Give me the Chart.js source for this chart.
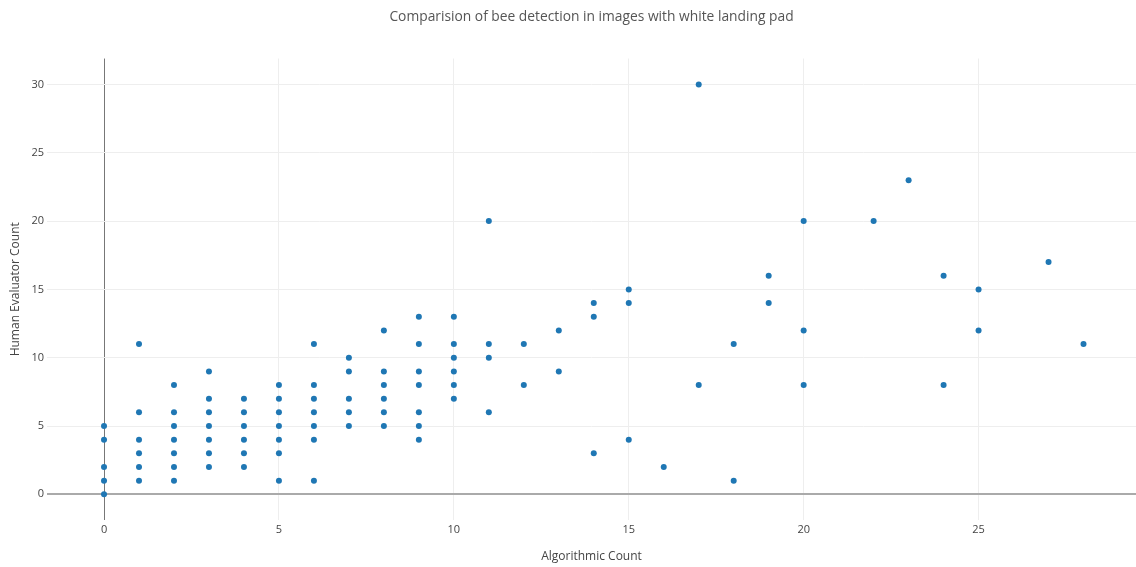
<!DOCTYPE html>
<html>
<head>
<meta charset="utf-8">
<script src="https://cdn.jsdelivr.net/npm/chart.js@4"></script>
<style>
  html, body { margin: 0; padding: 0; background: #fff; }
</style>
</head>
<body>
<canvas id="grafico" width="1136" height="567"></canvas>
<script>
// contagem do algoritmo (x) e do avaliador humano (y), ponto a ponto
const algoritmo = [
  0, 0, 0, 0, 0,
  1, 1, 1, 1, 1, 1,
  2, 2, 2, 2, 2, 2, 2,
  3, 3, 3, 3, 3, 3, 3,
  4, 4, 4, 4, 4, 4,
  5, 5, 5, 5, 5, 5, 5,
  6, 6, 6, 6, 6, 6, 6,
  7, 7, 7, 7, 7,
  8, 8, 8, 8, 8, 8,
  9, 9, 9, 9, 9, 9, 9,
  10, 10, 10, 10, 10, 10,
  11, 11, 11, 11,
  12, 12,
  13, 13,
  14, 14, 14,
  15, 15, 15,
  16,
  17, 17,
  18, 18,
  19, 19,
  20, 20, 20,
  22,
  23,
  24, 24,
  25, 25,
  27,
  28
];
const humano = [
  0, 1, 2, 4, 5,
  1, 2, 3, 4, 6, 11,
  1, 2, 3, 4, 5, 6, 8,
  2, 3, 4, 5, 6, 7, 9,
  2, 3, 4, 5, 6, 7,
  1, 3, 4, 5, 6, 7, 8,
  1, 4, 5, 6, 7, 8, 11,
  5, 6, 7, 9, 10,
  5, 6, 7, 8, 9, 12,
  4, 5, 6, 8, 9, 11, 13,
  7, 8, 9, 10, 11, 13,
  6, 10, 11, 20,
  8, 11,
  9, 12,
  3, 13, 14,
  4, 14, 15,
  2,
  8, 30,
  1, 11,
  14, 16,
  8, 12, 20,
  20,
  23,
  8, 16,
  12, 15,
  17,
  11
];
const ticksX = [0, 5, 10, 15, 20, 25];
const ticksY = [0, 5, 10, 15, 20, 25, 30];

const pontos = algoritmo.map((x, i) => ({ x, y: humano[i] }));
const fonte = 'Open Sans';

new Chart(document.getElementById('grafico'), {
  type: 'scatter',
  data: {
    datasets: [{
      label: 'Contagem',
      data: pontos,
      backgroundColor: '#1f77b4',
      borderWidth: 0,
      pointRadius: 3,
      pointHoverRadius: 3
    }]
  },
  options: {
    responsive: false,
    animation: false,
    layout: { padding: 0, autoPadding: false },
    plugins: {
      legend: { display: false },
      tooltip: { enabled: false },
      title: {
        display: true,
        fullSize: false,
        text: 'Comparision of bee detection in images with white landing pad',
        color: '#555',
        font: { family: fonte, size: 13.8, weight: 'normal' },
        padding: { top: 9, bottom: 33 }
      }
    },
    scales: {
      x: {
        type: 'linear',
        min: -1.63,
        max: 29.5,
        afterFit: s => { s.height = 47; },
        afterBuildTicks: s => { s.ticks = ticksX.map(v => ({ value: v })); },
        border: { display: false },
        grid: {
          drawTicks: false,
          color: c => c.tick && c.tick.value === 0 ? '#777' : '#eee',
          lineWidth: 1
        },
        ticks: {
          includeBounds: false,
          padding: 3,
          color: '#444',
          font: { family: fonte, size: 11 }
        },
        title: {
          display: true,
          text: 'Algorithmic Count',
          color: '#444',
          font: { family: fonte, size: 12 },
          padding: { top: 0, bottom: 3 }
        }
      },
      y: {
        type: 'linear',
        min: -1.88,
        max: 31.9,
        afterFit: s => { s.width = 47; },
        afterBuildTicks: s => { s.ticks = ticksY.map(v => ({ value: v })); },
        border: { display: false },
        grid: {
          drawTicks: false,
          color: c => c.tick && c.tick.value === 0 ? '#aaa' : '#eee',
          lineWidth: c => c.tick && c.tick.value === 0 ? 2 : 1
        },
        ticks: {
          includeBounds: false,
          padding: 3,
          color: '#444',
          font: { family: fonte, size: 11 }
        },
        title: {
          display: true,
          text: 'Human Evaluator Count',
          color: '#444',
          font: { family: fonte, size: 12 },
          padding: { top: 8, bottom: 0 }
        }
      }
    }
  }
});
</script>
</body>
</html>
